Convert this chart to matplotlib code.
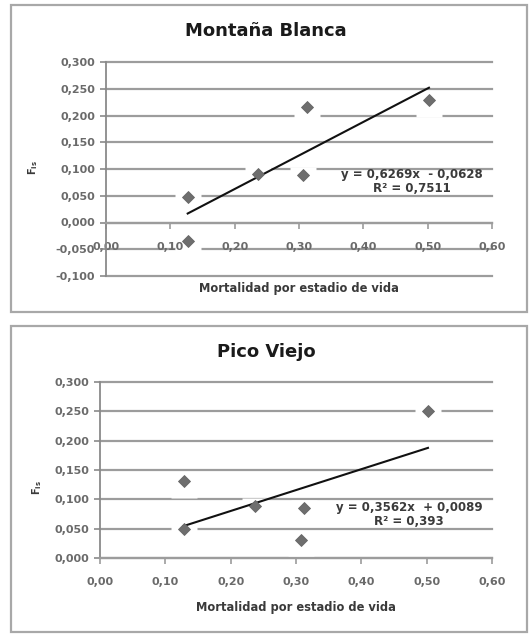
import matplotlib
matplotlib.use("Agg")
import matplotlib.pyplot as plt
import numpy as np
from matplotlib.patches import Rectangle
from matplotlib.path import Path

# ---------------- data ----------------
mb_title = "Montaña Blanca"
mb_x = [0.127, 0.127, 0.237, 0.306, 0.312, 0.502]
mb_y = [0.047, -0.035, 0.091, 0.088, 0.215, 0.229]
mb_slope, mb_icpt = 0.6269, -0.0628
mb_eq = "y = 0,6269x  - 0,0628\nR² = 0,7511"
mb_yticks = [-0.100, -0.050, 0.000, 0.050, 0.100, 0.150, 0.200, 0.250, 0.300]

pv_title = "Pico Viejo"
pv_x = [0.128, 0.128, 0.238, 0.313, 0.308, 0.502]
pv_y = [0.131, 0.049, 0.088, 0.085, 0.031, 0.251]
pv_slope, pv_icpt = 0.3562, 0.0089
pv_eq = "y = 0,3562x  + 0,0089\nR² = 0,393"
pv_yticks = [0.000, 0.050, 0.100, 0.150, 0.200, 0.250, 0.300]

xticks = [0.0, 0.1, 0.2, 0.3, 0.4, 0.5, 0.6]
xlabel = "Mortalidad por estadio de vida"
ylabel = r"$\mathbf{F_{is}}$"

W, H = 529, 634
fig = plt.figure(figsize=(W / 100, H / 100), dpi=100)
fig.patch.set_facecolor("white")

GRID = "#9c9c9c"
TXT = "#6a6a6a"

def px_axes(l, t, r, b):
    return fig.add_axes([l / W, 1 - b / H, (r - l) / W, (b - t) / H])

def frame(l, t, r, b):
    fig.add_artist(Rectangle((l / W, 1 - b / H), (r - l) / W, (b - t) / H,
                             transform=fig.transFigure, fill=False,
                             edgecolor="#a8a8a8", lw=1.6))

# white "label" box under markers (gaps in gridlines)
box = Path([(-13, -17), (13, -17), (13, 8), (-13, 8), (-13, -17)],
           [Path.MOVETO, Path.LINETO, Path.LINETO, Path.LINETO, Path.CLOSEPOLY])

def panel(ax, xs, ys, slope, icpt, eq, yticks, eqpos, xaxis_at_zero):
    ax.set_xlim(0, 0.6)
    ax.set_ylim(yticks[0], yticks[-1])
    for s in ["top", "right"]:
        ax.spines[s].set_visible(False)
    ax.spines["left"].set_color("#8a8a8a")
    ax.spines["left"].set_linewidth(1.3)
    ax.spines["bottom"].set_color(GRID)
    ax.spines["bottom"].set_linewidth(1.6)
    if xaxis_at_zero:
        ax.spines["bottom"].set_position(("data", 0))
    ax.set_yticks(yticks)
    ax.set_yticklabels([f"{v:.3f}".replace(".", ",") for v in yticks])
    ax.set_xticks(xticks)
    ax.set_xticklabels([f"{v:.2f}".replace(".", ",") for v in xticks])
    ax.tick_params(axis="y", direction="out", length=4, width=1.2, color="#8a8a8a",
                   labelsize=8, labelcolor=TXT, pad=4)
    ax.tick_params(axis="x", direction="out", length=4, width=1.2, color=GRID,
                   labelsize=8, labelcolor=TXT, pad=10)
    for lab in ax.get_xticklabels() + ax.get_yticklabels():
        lab.set_fontweight("bold")
    for v in yticks:
        ax.axhline(v, color=GRID, lw=1.6, zorder=0.5, clip_on=False)
    ax.plot(xs, ys, linestyle="none", marker=box, ms=24.2, mfc="white", mec="none",
            zorder=1.5, clip_on=False)
    xl = np.array([min(xs), max(xs)])
    ax.plot(xl, slope * xl + icpt, color="#111111", lw=1.5, zorder=2)
    ax.plot(xs, ys, linestyle="none", marker="D", ms=6.2, mfc="#6e6e6e", mec="#666666",
            mew=0.6, zorder=3, clip_on=False)
    ax.text(eqpos[0], eqpos[1], eq, ha="center", va="center", fontsize=8.5,
            fontweight="bold", color="#3a3a3a", linespacing=1.1, zorder=4)

# ---- top panel ----
frame(11, 5, 527, 312)
ax1 = px_axes(106, 62, 492, 276)
panel(ax1, mb_x, mb_y, mb_slope, mb_icpt, mb_eq, mb_yticks, (0.476, 0.0765), True)
fig.text(266 / W, 1 - 31 / H, mb_title, ha="center", va="center", fontsize=13,
         fontweight="bold", color="#1a1a1a")
fig.text(299 / W, 1 - 288 / H, xlabel, ha="center", va="center", fontsize=8.3,
         fontweight="bold", color="#3a3a3a")
fig.text(33 / W, 1 - 168 / H, ylabel, ha="center", va="center", fontsize=7,
         rotation=90, color="#3a3a3a")

# ---- bottom panel ----
frame(11, 326, 527, 632)
ax2 = px_axes(100, 382, 492, 558)
panel(ax2, pv_x, pv_y, pv_slope, pv_icpt, pv_eq, pv_yticks, (0.473, 0.0734), False)
fig.text(266 / W, 1 - 352 / H, pv_title, ha="center", va="center", fontsize=13,
         fontweight="bold", color="#1a1a1a")
fig.text(296 / W, 1 - 608 / H, xlabel, ha="center", va="center", fontsize=8.3,
         fontweight="bold", color="#3a3a3a")
fig.text(37 / W, 1 - 488 / H, ylabel, ha="center", va="center", fontsize=7,
         rotation=90, color="#3a3a3a")

fig.savefig("out.png", dpi=100, facecolor="white")
